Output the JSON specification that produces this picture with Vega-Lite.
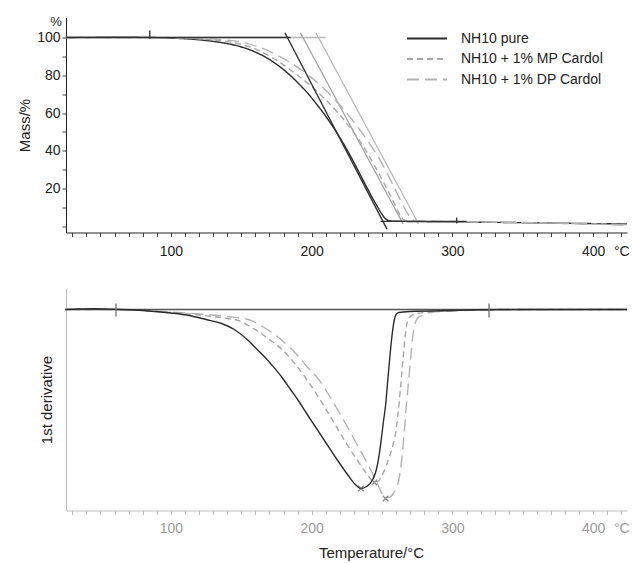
{
  "$schema": "https://vega.github.io/schema/vega-lite/v6.json",
  "padding": {"left": 17, "top": 15.5, "right": 0, "bottom": 0},
  "bounds": "flush",
  "spacing": 56,
  "config": {
    "font": "Liberation Sans",
    "view": {"stroke": null},
    "axis": {"grid": false, "labelFont": "Liberation Sans", "titleFont": "Liberation Sans", "titleFontWeight": "normal"},
    "legend": {"labelFont": "Liberation Sans"}
  },
  "datasets": {
    "mass": [
      {"s": "NH10 pure", "T": 25, "m": 100}, {"s": "NH10 pure", "T": 50, "m": 100.1}, {"s": "NH10 pure", "T": 75, "m": 100.1}, {"s": "NH10 pure", "T": 100, "m": 99.7}, {"s": "NH10 pure", "T": 113, "m": 99.2}, {"s": "NH10 pure", "T": 125, "m": 98.4}, {"s": "NH10 pure", "T": 136, "m": 97.3}, {"s": "NH10 pure", "T": 145, "m": 96}, {"s": "NH10 pure", "T": 155, "m": 93.8}, {"s": "NH10 pure", "T": 162, "m": 91.6}, {"s": "NH10 pure", "T": 167, "m": 89.7}, {"s": "NH10 pure", "T": 172, "m": 87.4}, {"s": "NH10 pure", "T": 179, "m": 83.6}, {"s": "NH10 pure", "T": 185, "m": 79.8}, {"s": "NH10 pure", "T": 191, "m": 75.4}, {"s": "NH10 pure", "T": 196, "m": 71.5}, {"s": "NH10 pure", "T": 203, "m": 65.2}, {"s": "NH10 pure", "T": 210, "m": 58.3}, {"s": "NH10 pure", "T": 218, "m": 49.4}, {"s": "NH10 pure", "T": 226, "m": 39.3}, {"s": "NH10 pure", "T": 231, "m": 32.4}, {"s": "NH10 pure", "T": 235, "m": 26.6}, {"s": "NH10 pure", "T": 239, "m": 20.9}, {"s": "NH10 pure", "T": 243, "m": 15.3}, {"s": "NH10 pure", "T": 246, "m": 11.3}, {"s": "NH10 pure", "T": 249.6, "m": 6.8}, {"s": "NH10 pure", "T": 252, "m": 4.3}, {"s": "NH10 pure", "T": 254.5, "m": 3.1}, {"s": "NH10 pure", "T": 258, "m": 2.7}, {"s": "NH10 pure", "T": 265, "m": 2.6}, {"s": "NH10 pure", "T": 300, "m": 2.3}, {"s": "NH10 pure", "T": 340, "m": 2.0}, {"s": "NH10 pure", "T": 380, "m": 1.6}, {"s": "NH10 pure", "T": 424, "m": 1.2},
      {"s": "NH10 + 1% MP Cardol", "T": 25, "m": 100}, {"s": "NH10 + 1% MP Cardol", "T": 60, "m": 100}, {"s": "NH10 + 1% MP Cardol", "T": 100, "m": 99.8}, {"s": "NH10 + 1% MP Cardol", "T": 120, "m": 99.3}, {"s": "NH10 + 1% MP Cardol", "T": 134, "m": 98.5}, {"s": "NH10 + 1% MP Cardol", "T": 150, "m": 96.4}, {"s": "NH10 + 1% MP Cardol", "T": 160, "m": 94}, {"s": "NH10 + 1% MP Cardol", "T": 170, "m": 90.2}, {"s": "NH10 + 1% MP Cardol", "T": 180, "m": 85.5}, {"s": "NH10 + 1% MP Cardol", "T": 190, "m": 80}, {"s": "NH10 + 1% MP Cardol", "T": 200, "m": 74}, {"s": "NH10 + 1% MP Cardol", "T": 210, "m": 67}, {"s": "NH10 + 1% MP Cardol", "T": 220, "m": 59}, {"s": "NH10 + 1% MP Cardol", "T": 230, "m": 49.5}, {"s": "NH10 + 1% MP Cardol", "T": 238, "m": 40.8}, {"s": "NH10 + 1% MP Cardol", "T": 244, "m": 33}, {"s": "NH10 + 1% MP Cardol", "T": 250, "m": 24.8}, {"s": "NH10 + 1% MP Cardol", "T": 255, "m": 17.6}, {"s": "NH10 + 1% MP Cardol", "T": 259, "m": 11.6}, {"s": "NH10 + 1% MP Cardol", "T": 262, "m": 7}, {"s": "NH10 + 1% MP Cardol", "T": 264, "m": 4.4}, {"s": "NH10 + 1% MP Cardol", "T": 266, "m": 3.2}, {"s": "NH10 + 1% MP Cardol", "T": 270, "m": 2.8}, {"s": "NH10 + 1% MP Cardol", "T": 300, "m": 2.4}, {"s": "NH10 + 1% MP Cardol", "T": 350, "m": 1.9}, {"s": "NH10 + 1% MP Cardol", "T": 424, "m": 0.9},
      {"s": "NH10 + 1% DP Cardol", "T": 25, "m": 100}, {"s": "NH10 + 1% DP Cardol", "T": 60, "m": 100}, {"s": "NH10 + 1% DP Cardol", "T": 100, "m": 99.8}, {"s": "NH10 + 1% DP Cardol", "T": 120, "m": 99.5}, {"s": "NH10 + 1% DP Cardol", "T": 134, "m": 99}, {"s": "NH10 + 1% DP Cardol", "T": 150, "m": 97.6}, {"s": "NH10 + 1% DP Cardol", "T": 160, "m": 95.6}, {"s": "NH10 + 1% DP Cardol", "T": 170, "m": 92.7}, {"s": "NH10 + 1% DP Cardol", "T": 180, "m": 88.8}, {"s": "NH10 + 1% DP Cardol", "T": 190, "m": 84.2}, {"s": "NH10 + 1% DP Cardol", "T": 200, "m": 78.6}, {"s": "NH10 + 1% DP Cardol", "T": 210, "m": 72}, {"s": "NH10 + 1% DP Cardol", "T": 220, "m": 64.2}, {"s": "NH10 + 1% DP Cardol", "T": 230, "m": 55.2}, {"s": "NH10 + 1% DP Cardol", "T": 240, "m": 45}, {"s": "NH10 + 1% DP Cardol", "T": 248, "m": 35.8}, {"s": "NH10 + 1% DP Cardol", "T": 253, "m": 29}, {"s": "NH10 + 1% DP Cardol", "T": 258, "m": 21.6}, {"s": "NH10 + 1% DP Cardol", "T": 263, "m": 14}, {"s": "NH10 + 1% DP Cardol", "T": 267, "m": 8.2}, {"s": "NH10 + 1% DP Cardol", "T": 270, "m": 4.8}, {"s": "NH10 + 1% DP Cardol", "T": 273, "m": 3.2}, {"s": "NH10 + 1% DP Cardol", "T": 278, "m": 2.8}, {"s": "NH10 + 1% DP Cardol", "T": 300, "m": 2.5}, {"s": "NH10 + 1% DP Cardol", "T": 350, "m": 2.0}, {"s": "NH10 + 1% DP Cardol", "T": 424, "m": 0.6}
    ],
    "refs": [
      {"id": "grey100", "T": 25.5, "m": 100}, {"id": "grey100", "T": 210, "m": 100},
      {"id": "black100", "T": 25.5, "m": 100}, {"id": "black100", "T": 185, "m": 100},
      {"id": "resid", "T": 249, "m": 2.6}, {"id": "resid", "T": 310, "m": 2.6},
      {"id": "tan0", "T": 181, "m": 102.5}, {"id": "tan0", "T": 253.5, "m": -1.5},
      {"id": "tan1", "T": 192, "m": 102.5}, {"id": "tan1", "T": 265, "m": 1.2},
      {"id": "tan2", "T": 203, "m": 102.5}, {"id": "tan2", "T": 276, "m": 1.2}
    ],
    "topmarks": [
      {"T": 85, "m": 99.5, "m2": 103.7},
      {"T": 303, "m": 1.5, "m2": 4.6}
    ],
    "unit": [{"u": "%", "T": 25.5, "m": 108}],
    "deriv": [
      {"s": "pure", "T": 25, "d": 0}, {"s": "pure", "T": 35, "d": 0.005}, {"s": "pure", "T": 45, "d": 0.008}, {"s": "pure", "T": 60, "d": 0.002}, {"s": "pure", "T": 80, "d": -0.01}, {"s": "pure", "T": 100, "d": -0.035}, {"s": "pure", "T": 113, "d": -0.06}, {"s": "pure", "T": 125, "d": -0.1}, {"s": "pure", "T": 136, "d": -0.14}, {"s": "pure", "T": 145, "d": -0.2}, {"s": "pure", "T": 155, "d": -0.31}, {"s": "pure", "T": 162, "d": -0.41}, {"s": "pure", "T": 167, "d": -0.48}, {"s": "pure", "T": 172, "d": -0.56}, {"s": "pure", "T": 179, "d": -0.68}, {"s": "pure", "T": 185, "d": -0.8}, {"s": "pure", "T": 191, "d": -0.92}, {"s": "pure", "T": 196, "d": -1.03}, {"s": "pure", "T": 203, "d": -1.18}, {"s": "pure", "T": 210, "d": -1.33}, {"s": "pure", "T": 218, "d": -1.5}, {"s": "pure", "T": 226, "d": -1.66}, {"s": "pure", "T": 231, "d": -1.75}, {"s": "pure", "T": 235, "d": -1.79}, {"s": "pure", "T": 239, "d": -1.77}, {"s": "pure", "T": 243, "d": -1.71}, {"s": "pure", "T": 246, "d": -1.6}, {"s": "pure", "T": 248, "d": -1.45}, {"s": "pure", "T": 249.6, "d": -1.28}, {"s": "pure", "T": 251, "d": -1.12}, {"s": "pure", "T": 252.5, "d": -0.96}, {"s": "pure", "T": 254, "d": -0.72}, {"s": "pure", "T": 255.5, "d": -0.48}, {"s": "pure", "T": 257, "d": -0.27}, {"s": "pure", "T": 258.5, "d": -0.12}, {"s": "pure", "T": 260, "d": -0.05}, {"s": "pure", "T": 262, "d": -0.03}, {"s": "pure", "T": 270, "d": -0.02}, {"s": "pure", "T": 300, "d": -0.01}, {"s": "pure", "T": 350, "d": 0}, {"s": "pure", "T": 424, "d": 0},
      {"s": "MP", "T": 25, "d": 0}, {"s": "MP", "T": 60, "d": 0}, {"s": "MP", "T": 100, "d": -0.03}, {"s": "MP", "T": 120, "d": -0.055}, {"s": "MP", "T": 140, "d": -0.09}, {"s": "MP", "T": 148, "d": -0.11}, {"s": "MP", "T": 155, "d": -0.16}, {"s": "MP", "T": 162, "d": -0.22}, {"s": "MP", "T": 170, "d": -0.3}, {"s": "MP", "T": 179, "d": -0.4}, {"s": "MP", "T": 188, "d": -0.54}, {"s": "MP", "T": 196, "d": -0.69}, {"s": "MP", "T": 205, "d": -0.88}, {"s": "MP", "T": 212, "d": -1.04}, {"s": "MP", "T": 220, "d": -1.23}, {"s": "MP", "T": 226, "d": -1.37}, {"s": "MP", "T": 233, "d": -1.52}, {"s": "MP", "T": 239, "d": -1.64}, {"s": "MP", "T": 244, "d": -1.72}, {"s": "MP", "T": 247, "d": -1.72}, {"s": "MP", "T": 250, "d": -1.66}, {"s": "MP", "T": 253, "d": -1.56}, {"s": "MP", "T": 256, "d": -1.44}, {"s": "MP", "T": 258, "d": -1.34}, {"s": "MP", "T": 259.6, "d": -1.24}, {"s": "MP", "T": 261.3, "d": -1.05}, {"s": "MP", "T": 263, "d": -0.8}, {"s": "MP", "T": 264, "d": -0.64}, {"s": "MP", "T": 265, "d": -0.48}, {"s": "MP", "T": 266.2, "d": -0.3}, {"s": "MP", "T": 267.4, "d": -0.16}, {"s": "MP", "T": 269, "d": -0.09}, {"s": "MP", "T": 272, "d": -0.05}, {"s": "MP", "T": 280, "d": -0.03}, {"s": "MP", "T": 300, "d": -0.01}, {"s": "MP", "T": 330, "d": 0}, {"s": "MP", "T": 424, "d": 0},
      {"s": "DP", "T": 25, "d": 0}, {"s": "DP", "T": 60, "d": 0}, {"s": "DP", "T": 100, "d": -0.025}, {"s": "DP", "T": 120, "d": -0.045}, {"s": "DP", "T": 140, "d": -0.07}, {"s": "DP", "T": 155, "d": -0.1}, {"s": "DP", "T": 165, "d": -0.17}, {"s": "DP", "T": 179, "d": -0.31}, {"s": "DP", "T": 190, "d": -0.46}, {"s": "DP", "T": 196, "d": -0.56}, {"s": "DP", "T": 205, "d": -0.7}, {"s": "DP", "T": 212, "d": -0.85}, {"s": "DP", "T": 220, "d": -1.04}, {"s": "DP", "T": 226, "d": -1.19}, {"s": "DP", "T": 233, "d": -1.37}, {"s": "DP", "T": 240, "d": -1.55}, {"s": "DP", "T": 246, "d": -1.72}, {"s": "DP", "T": 250, "d": -1.84}, {"s": "DP", "T": 252.5, "d": -1.88}, {"s": "DP", "T": 255, "d": -1.88}, {"s": "DP", "T": 258, "d": -1.84}, {"s": "DP", "T": 260, "d": -1.79}, {"s": "DP", "T": 262, "d": -1.7}, {"s": "DP", "T": 263.5, "d": -1.56}, {"s": "DP", "T": 265, "d": -1.36}, {"s": "DP", "T": 266.2, "d": -1.15}, {"s": "DP", "T": 267.4, "d": -0.94}, {"s": "DP", "T": 268.7, "d": -0.74}, {"s": "DP", "T": 270, "d": -0.54}, {"s": "DP", "T": 271, "d": -0.38}, {"s": "DP", "T": 272, "d": -0.25}, {"s": "DP", "T": 273.5, "d": -0.14}, {"s": "DP", "T": 275, "d": -0.09}, {"s": "DP", "T": 278, "d": -0.06}, {"s": "DP", "T": 285, "d": -0.03}, {"s": "DP", "T": 300, "d": -0.015}, {"s": "DP", "T": 320, "d": -0.005}, {"s": "DP", "T": 424, "d": 0}
    ],
    "base": [{"T": 25.5, "d": 0}, {"T": 424, "d": 0}],
    "minima": [{"T": 235, "d": -1.79}, {"T": 244.5, "d": -1.73}, {"T": 252.5, "d": -1.89}],
    "botmarks": [{"T": 61, "d": 0.06, "d2": -0.07}, {"T": 326, "d": 0.06, "d2": -0.08}]
  },
  "vconcat": [
    {
      "width": 561,
      "height": 215,
      "encoding": {
        "x": {"field": "T", "type": "quantitative", "scale": {"domain": [25.5, 424], "nice": false, "zero": false},
          "axis": {"title": null, "values": [30,40,50,60,70,80,90,100,110,120,130,140,150,160,170,180,190,200,210,220,230,240,250,260,270,280,290,300,310,320,330,340,350,360,370,380,390,400,410,420],
            "labelExpr": "datum.value % 100 == 0 ? datum.value : (datum.value == 420 ? '°C' : '')", "labelOverlap": false, "labelFlush": false,
            "domainColor": "#222", "tickColor": "#444", "tickSize": 4, "labelPadding": 8, "labelFontSize": 14, "labelColor": "#222"}},
        "y": {"field": "m", "type": "quantitative", "scale": {"domain": [-3.3, 110.6], "nice": false, "zero": false},
          "axis": {"title": "Mass/%", "values": [0,10,20,30,40,50,60,70,80,90,100],
            "labelExpr": "datum.value > 0 && datum.value % 20 == 0 ? datum.value : ''", "labelOverlap": false,
            "domainColor": "#222", "tickColor": "#444", "tickSize": 4, "labelPadding": 2, "labelFontSize": 14, "labelColor": "#222",
            "titleFontSize": 15, "titleColor": "#222", "titlePadding": 4}}
      },
      "layer": [
        {"data": {"name": "refs"}, "transform": [{"filter": "datum.id == 'grey100'"}], "mark": {"type": "line", "color": "#b8b8b8", "strokeWidth": 1.3}},
        {"data": {"name": "refs"}, "transform": [{"filter": "datum.id == 'tan2'"}], "mark": {"type": "line", "color": "#b8b8b8", "strokeWidth": 1.3}},
        {"data": {"name": "refs"}, "transform": [{"filter": "datum.id == 'tan1'"}], "mark": {"type": "line", "color": "#a0a0a0", "strokeWidth": 1.3}},
        {"data": {"name": "mass"}, "mark": {"type": "line", "strokeWidth": 1.4, "interpolate": "monotone"},
          "encoding": {
            "color": {"field": "s", "type": "nominal", "sort": null,
              "scale": {"domain": ["NH10 pure", "NH10 + 1% MP Cardol", "NH10 + 1% DP Cardol"], "range": ["#2b2b2b", "#a6a6a6", "#b2b2b2"]},
              "legend": {"orient": "none", "legendX": 350, "legendY": 10, "title": null, "symbolType": "M-2,0H2", "symbolSize": 400, "symbolStrokeWidth": 2, "labelFontSize": 14, "labelColor": "#222", "labelOffset": 23, "rowPadding": 2.5, "padding": 0}},
            "strokeDash": {"field": "s", "type": "nominal", "sort": null,
              "scale": {"domain": ["NH10 pure", "NH10 + 1% MP Cardol", "NH10 + 1% DP Cardol"], "range": [[1, 0], [6, 4], [12, 6]]},
              "legend": {"orient": "none", "legendX": 350, "legendY": 10, "title": null, "symbolType": "M-2,0H2", "symbolSize": 400, "symbolStrokeWidth": 2, "labelFontSize": 14, "labelColor": "#222", "labelOffset": 23, "rowPadding": 2.5, "padding": 0}}
          }},
        {"data": {"name": "refs"}, "transform": [{"filter": "datum.id == 'black100' || datum.id == 'resid' || datum.id == 'tan0'"}], "mark": {"type": "line", "color": "#333", "strokeWidth": 1.4}, "encoding": {"detail": {"field": "id"}}},
        {"data": {"name": "topmarks"}, "mark": {"type": "rule", "color": "#333", "strokeWidth": 1.4}, "encoding": {"y2": {"field": "m2"}}},
        {"data": {"name": "unit"}, "mark": {"type": "text", "fontSize": 13, "color": "#222", "dx": -10, "align": "center", "baseline": "middle"},
          "encoding": {"text": {"field": "u", "type": "nominal"}}}
      ]
    },
    {
      "width": 561,
      "height": 222,
      "encoding": {
        "x": {"field": "T", "type": "quantitative", "scale": {"domain": [25.5, 424], "nice": false, "zero": false},
          "axis": {"title": "Temperature/°C", "values": [30,40,50,60,70,80,90,100,110,120,130,140,150,160,170,180,190,200,210,220,230,240,250,260,270,280,290,300,310,320,330,340,350,360,370,380,390,400,410,420],
            "labelExpr": "datum.value % 100 == 0 ? datum.value : (datum.value == 420 ? '°C' : '')", "labelOverlap": false, "labelFlush": false,
            "domainColor": "#bdbdbd", "tickColor": "#bdbdbd", "tickSize": 4, "labelPadding": 7, "labelFontSize": 14, "labelColor": "#9a9a9a",
            "titleFontSize": 15, "titleColor": "#222", "titlePadding": 10, "titleX": 305}},
        "y": {"field": "d", "type": "quantitative", "scale": {"domain": [-2.01, 0.21], "nice": false, "zero": false},
          "axis": {"title": "1st derivative", "labels": false, "ticks": false, "domainColor": "#bdbdbd", "titleFontSize": 15, "titleColor": "#222", "titlePadding": 12}}
      },
      "layer": [
        {"data": {"name": "deriv"}, "transform": [{"filter": "datum.s == 'DP'"}], "mark": {"type": "line", "color": "#b2b2b2", "strokeWidth": 1.4, "strokeDash": [12, 6], "interpolate": "monotone"}},
        {"data": {"name": "deriv"}, "transform": [{"filter": "datum.s == 'MP'"}], "mark": {"type": "line", "color": "#a6a6a6", "strokeWidth": 1.4, "strokeDash": [6, 4], "interpolate": "monotone"}},
        {"data": {"name": "base"}, "mark": {"type": "line", "color": "#555", "strokeWidth": 1.6}},
        {"data": {"name": "deriv"}, "transform": [{"filter": "datum.s == 'pure'"}], "mark": {"type": "line", "color": "#2b2b2b", "strokeWidth": 1.4, "interpolate": "monotone"}},
        {"data": {"name": "minima"}, "mark": {"type": "point", "shape": "M-1,-1L1,1M-1,1L1,-1", "size": 30, "filled": false, "color": "#555", "strokeWidth": 1.2}},
        {"data": {"name": "botmarks"}, "mark": {"type": "rule", "color": "#777", "strokeWidth": 1.4}, "encoding": {"y2": {"field": "d2"}}}
      ]
    }
  ]
}
